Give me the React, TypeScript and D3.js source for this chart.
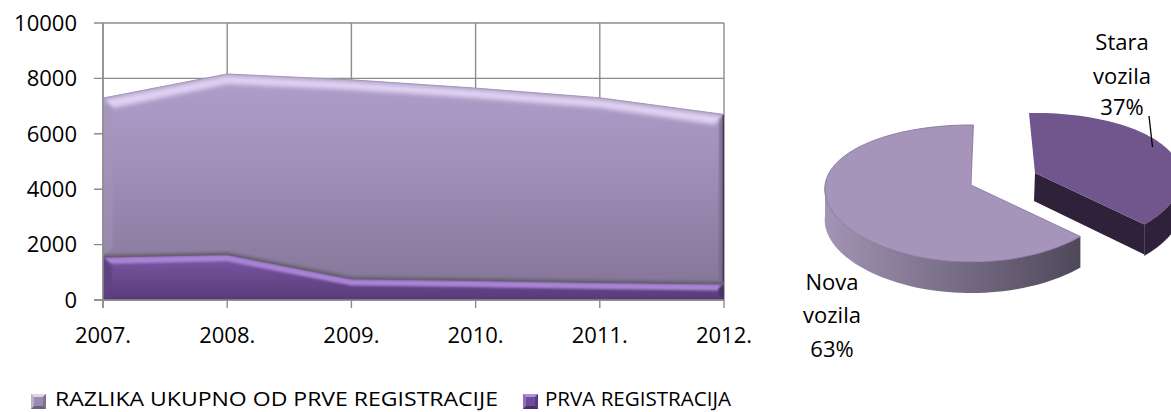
import React from "react";
import * as d3 from "d3";

const years = ["2007.", "2008.", "2009.", "2010.", "2011.", "2012."];
const prvaValues = [1560, 1650, 780, 720, 650, 600];
const razlikaValues = [5730, 6510, 7170, 6930, 6650, 6100];
const yTicks = [0, 2000, 4000, 6000, 8000, 10000];
const pieValues = [37, 63];

const font = "'Open Sans', sans-serif";
const grid = "#8c8c8c";
const rows = years.map((y, i) => ({ y, prva: prvaValues[i], razlika: razlikaValues[i] }));
const stacked = d3.stack<any>().keys(["prva", "razlika"])(rows);

const x = d3.scalePoint<string>().domain(years).range([103, 724]);
const y = d3.scaleLinear().domain([0, 10000]).range([300, 23]);

const area = d3.area<any>().x((d) => x(d.data.y)!).y0((d) => y(d[0])).y1((d) => y(d[1]));
const topLine = d3.line<any>().x((d) => x(d.data.y)!).y((d) => y(d[1]));

function bevelBand(s: any[], depth: number, lead = 0) {
  const n = s.length - 1;
  const xa = s.map((d) => x(d.data.y)!);
  const ya = s.map((d) => y(d[1]));
  const inner = s.map((_, i) => [
    i === 0 ? xa[i] + depth : i === n ? xa[i] - depth : xa[i],
    ya[i] + depth,
  ]);
  const outer = s.map((_, i) => [xa[i], ya[i] + lead]);
  return "M" + outer.map((p) => p.join(",")).join("L") + "L" + inner.reverse().map((p) => p.join(",")).join("L") + "Z";
}
function sideBevel(s: any[], index: number, dir: number, depth: number) {
  const d = s[index];
  const px = x(d.data.y)!;
  const y1 = y(d[1]);
  const y0 = y(d[0]);
  return d3.line()([[px, y1], [px + dir * depth, y1 + depth], [px + dir * depth, y0 - depth], [px, y0]]) + "Z";
}

// Pie with a simple perspective projection
const persp = 0.124;
const rx = 146;
const ry = 67.5;
const cx = 971;
const cy = 185;
const depth = 31;
const arcs = d3.pie<number>().sort(null).startAngle((1 * Math.PI) / 180).endAngle((361 * Math.PI) / 180)(pieValues);

function project(a: number, r = 1): [number, number] {
  const ux = Math.sin(a) * r;
  const uy = -Math.cos(a) * r;
  const k = 1 / (1 - persp * uy);
  const kx = 1 / (1 - (persp / 2) * uy);
  return [cx + rx * ux * kx, cy + ry * uy * k];
}
function sample(a0: number, a1: number) {
  return d3.range(0, 61).map((i) => project(a0 + ((a1 - a0) * i) / 60));
}
const lineGen = d3.line();
const shift = (pts: [number, number][], dx: number, dy: number) => pts.map(([a, b]) => [a + dx, b + dy] as [number, number]);
const closed = (pts: [number, number][]) => lineGen(pts) + "Z";

const staraOffset: [number, number] = [64, -12];
const stara = arcs[0];
const nova = arcs[1];
const staraOuter = sample(stara.startAngle - (3.5 * Math.PI) / 180, stara.endAngle);
const novaOuter = sample(nova.startAngle, nova.endAngle);
const centre: [number, number] = [cx, cy];
const staraTop = closed(shift([centre, ...staraOuter], ...staraOffset));
const novaTop = closed([centre, ...novaOuter]);
const novaFront = sample(nova.startAngle, Math.PI * 1.5);
const novaWall = closed([...novaFront, ...shift(novaFront, 0, depth).reverse()]);
const staraFront = sample(Math.PI / 2, stara.endAngle);
const staraWall = closed(shift([...staraFront, ...shift(staraFront, 0, depth).reverse()], ...staraOffset));
const staraEnd = project(stara.endAngle);
const staraCut = closed(
  shift([centre, staraEnd, [staraEnd[0], staraEnd[1] + depth - 1], [cx - 1, cy + depth - 3]], ...staraOffset)
);
const novaLeftX = project(Math.PI * 1.5)[0];
const novaRightX = project(nova.startAngle)[0];

const labelLines = [
  { x: 1122, lines: ["Stara", "vozila", pieValues[0] + "%"], baselines: [50, 84, 115] },
  { x: 832, lines: ["Nova", "vozila", pieValues[1] + "%"], baselines: [290, 323, 357] },
];

function Swatch({ px, py, size, base, light, dark }: any) {
  const b = 3;
  return (
    <g>
      <rect x={px} y={py} width={size} height={size} fill={base} />
      <path d={`M${px},${py}H${px + size}L${px + size - b},${py + b}H${px + b}Z`} fill={light} />
      <path d={`M${px},${py + size}H${px + size}L${px + size - b},${py + size - b}H${px + b}Z`} fill={dark} />
      <path d={`M${px},${py}V${py + size}L${px + b},${py + size - b}V${py + b}Z`} fill={light} opacity={0.5} />
      <path d={`M${px + size},${py}V${py + size}L${px + size - b},${py + size - b}V${py + b}Z`} fill={dark} opacity={0.6} />
    </g>
  );
}

export default function App() {
  const upper = stacked[1];
  const lower = stacked[0];
  return (
    <svg width={1171} height={412} style={{ position: "absolute", left: 0, top: 0, background: "#fff" }}>
      <defs>
        <linearGradient id="up" x1="0" y1="0" x2="0" y2="1">
          <stop offset="0" stopColor="#b09ecb" />
          <stop offset="0.45" stopColor="#a08fb8" />
          <stop offset="1" stopColor="#86779a" />
        </linearGradient>
        <linearGradient id="low" x1="0" y1="0" x2="0" y2="1">
          <stop offset="0" stopColor="#7d58a6" />
          <stop offset="1" stopColor="#573b77" />
        </linearGradient>
        <linearGradient id="wall" gradientUnits="userSpaceOnUse" x1={novaLeftX} x2={novaRightX + 105} y1="0" y2="0">
          <stop offset="0" stopColor="#a294b4" />
          <stop offset="0.8" stopColor="#443e4e" />
          <stop offset="1" stopColor="#44404c" />
        </linearGradient>
        <filter id="soft" x="-5%" y="-40%" width="110%" height="180%">
          <feGaussianBlur stdDeviation="2" />
        </filter>
        <filter id="softer" x="-5%" y="-40%" width="110%" height="180%">
          <feGaussianBlur stdDeviation="1" />
        </filter>
        <clipPath id="clipUp"><path d={area(upper as any)!} /></clipPath>
        <clipPath id="clipLow"><path d={area(lower as any)!} /></clipPath>
      </defs>

      {/* grid */}
      {yTicks.map((t) => (
        <line key={t} x1={94} x2={724} y1={y(t)} y2={y(t)} stroke={grid} strokeWidth={1.4} />
      ))}
      {years.map((c) => (
        <line key={c} x1={x(c)} x2={x(c)} y1={23} y2={308} stroke={grid} strokeWidth={1.4} />
      ))}

      {/* upper area */}
      <path d={area(upper as any)!} fill="url(#up)" />
      <g clipPath="url(#clipUp)">
        <path d={bevelBand(upper as any, 10, 2)} fill="#dfd2f2" filter="url(#soft)" />
        <path d={sideBevel(upper as any, 0, 1, 10)} fill="#a594ba" opacity={0.5} filter="url(#softer)" />
        <path d={sideBevel(upper as any, 5, -1, 5)} fill="#6e6180" opacity={0.6} filter="url(#softer)" />
        <line x1={x(years[5])} x2={x(years[5])} y1={y(stacked[1][5][1])} y2={y(stacked[1][5][0])} stroke="#453a58" strokeWidth={3} />
        <path d={topLine(lower as any)!} stroke="#6e6876" strokeWidth={3} fill="none" transform="translate(0,-1)" filter="url(#softer)" />
      </g>
      <path d={topLine(upper as any)!} stroke="#a598b4" strokeWidth={1} fill="none" />

      {/* lower area */}
      <path d={area(lower as any)!} fill="url(#low)" />
      <g clipPath="url(#clipLow)">
        <path d={bevelBand(lower as any, 7, 1)} fill="#a884d4" filter="url(#softer)" />
        <path d={sideBevel(lower as any, 0, 1, 9)} fill="#5f4284" filter="url(#softer)" />
        <path d={sideBevel(lower as any, 5, -1, 5)} fill="#45305f" filter="url(#softer)" />
      </g>
      <path d={topLine(lower as any)!} stroke="#66606e" strokeWidth={1.4} fill="none" />
      <line x1={94} x2={724} y1={y(0)} y2={y(0)} stroke={grid} strokeWidth={1.4} />
      <line x1={x(years[0])} x2={x(years[0])} y1={23} y2={308} stroke={grid} strokeWidth={1.4} />

      {/* axis text */}
      <g fontFamily={font} fontSize={22} fill="#000">
        {yTicks.map((t) => (
          <text key={t} x={77} y={y(t)} dy="0.35em" textAnchor="end">{t}</text>
        ))}
        {years.map((c) => (
          <text key={c} x={x(c)} y={343} textAnchor="middle">{c}</text>
        ))}
      </g>

      {/* pie */}
      <path d={novaWall} fill="url(#wall)" />
      <path d={novaTop} fill="#a694bb" stroke="#7f6f99" strokeWidth={0.8} />
      <path d={staraCut} fill="#2e2139" />
      <path d={staraWall} fill="#2e2139" stroke="#3d2e4a" strokeWidth={0.5} />
      <path d={staraTop} fill="#71558d" />

      <line x1={1149} y1={116} x2={1152.5} y2={147} stroke="#000" strokeWidth={1.3} />
      <g fontFamily={font} fontSize={22} fill="#000" textAnchor="middle">
        {labelLines.map((l) =>
          l.lines.map((s, i) => (
            <text key={s} x={l.x} y={l.baselines[i]}>{s}</text>
          ))
        )}
      </g>

      {/* legend */}
      <Swatch px={31} py={394} size={15} base="#9a89b0" light="#ddd4ea" dark="#6d6080" />
      <text x={55} y={406} fontFamily={font} fontSize={19.5} fill="#000" textLength={443} lengthAdjust="spacingAndGlyphs">RAZLIKA UKUPNO OD PRVE REGISTRACIJE</text>
      <Swatch px={523} py={394} size={15} base="#6f4d98" light="#b08fdc" dark="#46306a" />
      <text x={545} y={406} fontFamily={font} fontSize={19.5} fill="#000" textLength={186} lengthAdjust="spacingAndGlyphs">PRVA REGISTRACIJA</text>
    </svg>
  );
}
